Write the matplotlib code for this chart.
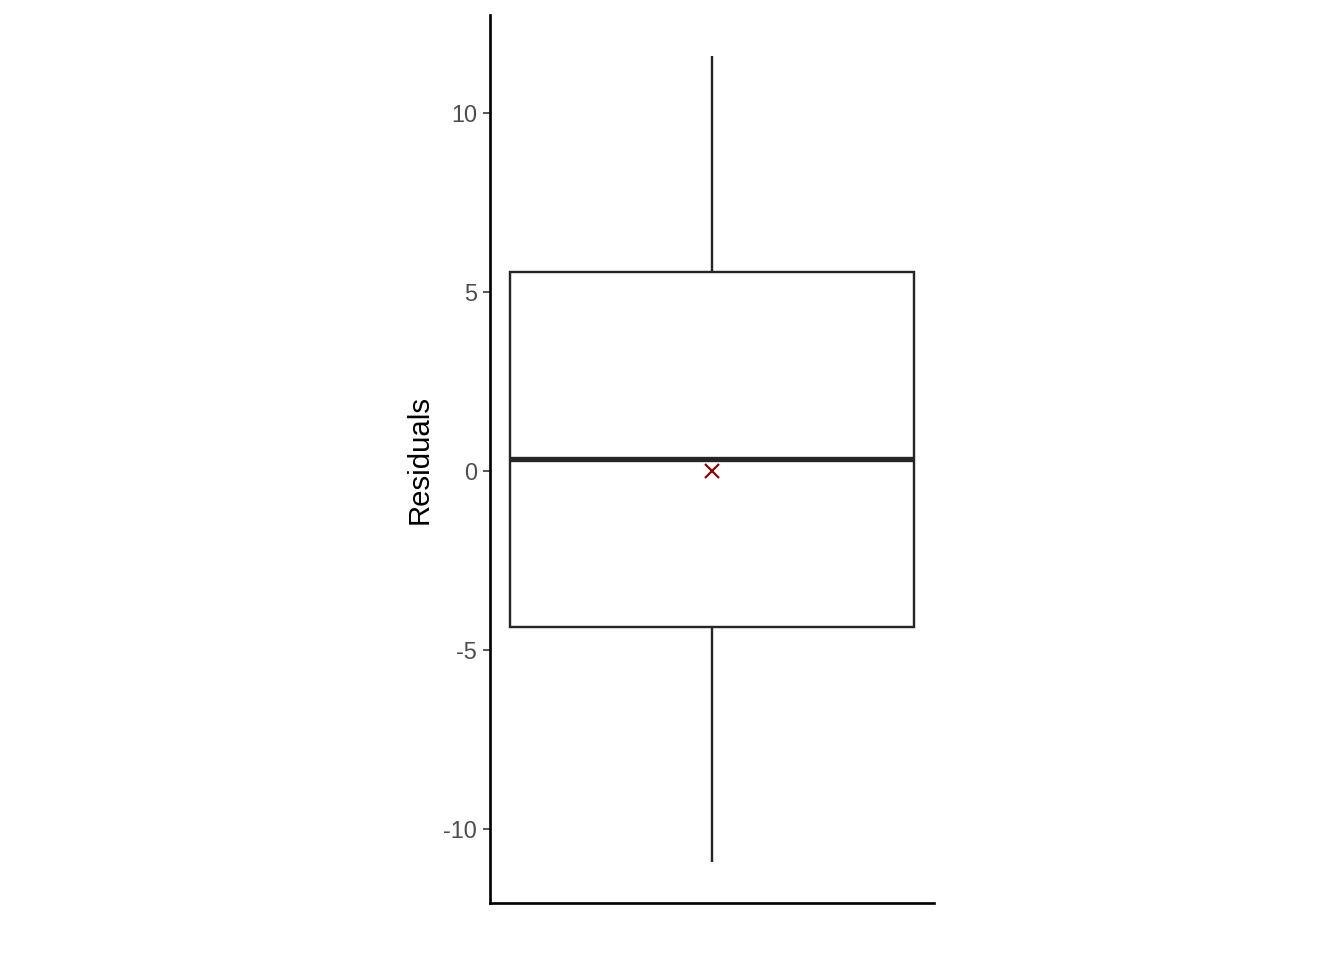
import matplotlib
matplotlib.use("Agg")
import matplotlib.pyplot as plt
from matplotlib.patches import Rectangle

# Data
whisker_low = -10.92
q1 = -4.36
median = 0.33
q3 = 5.56
whisker_high = 11.59
mean_value = 0.0
y_ticks = [-10, -5, 0, 5, 10]
y_tick_labels = ["-10", "-5", "0", "5", "10"]
y_label = "Residuals"

plt.rcParams['font.family'] = ['Liberation Sans', 'DejaVu Sans']

fig = plt.figure(figsize=(7, 5), dpi=192)
ax = fig.add_axes([490/1344, 1 - 903/960, 444/1344, 888/960])

center = 0.5
half_w = 0.455
lc = "#262626"
ax.plot([center, center], [q3, whisker_high], color=lc, lw=0.9, solid_capstyle='butt')
ax.plot([center, center], [whisker_low, q1], color=lc, lw=0.9, solid_capstyle='butt')
ax.add_patch(Rectangle((center - half_w, q1), 2 * half_w, q3 - q1,
                       facecolor='white', edgecolor=lc, lw=0.9))
ax.plot([center - half_w, center + half_w], [median, median], color=lc, lw=2.0,
        solid_capstyle='butt')
ax.plot([center], [mean_value], marker='x', color='#8B0000', markersize=5.2, mew=0.8,
        linestyle='none')

ax.set_xlim(0, 1)
ax.set_ylim(-12.07, 12.74)
ax.set_yticks(y_ticks)
ax.set_yticklabels(y_tick_labels)
ax.set_xticks([])
ax.tick_params(axis='y', length=2.75, width=0.6, color='#333333', labelcolor='#4d4d4d',
               labelsize=8.8, pad=2.2)
ax.set_ylabel(y_label, fontsize=11, color='black', labelpad=3.5)
for s in ['top', 'right']:
    ax.spines[s].set_visible(False)
for s in ['left', 'bottom']:
    ax.spines[s].set_linewidth(1.0)
    ax.spines[s].set_color('black')

fig.savefig("out.png", dpi=192, facecolor='white')
